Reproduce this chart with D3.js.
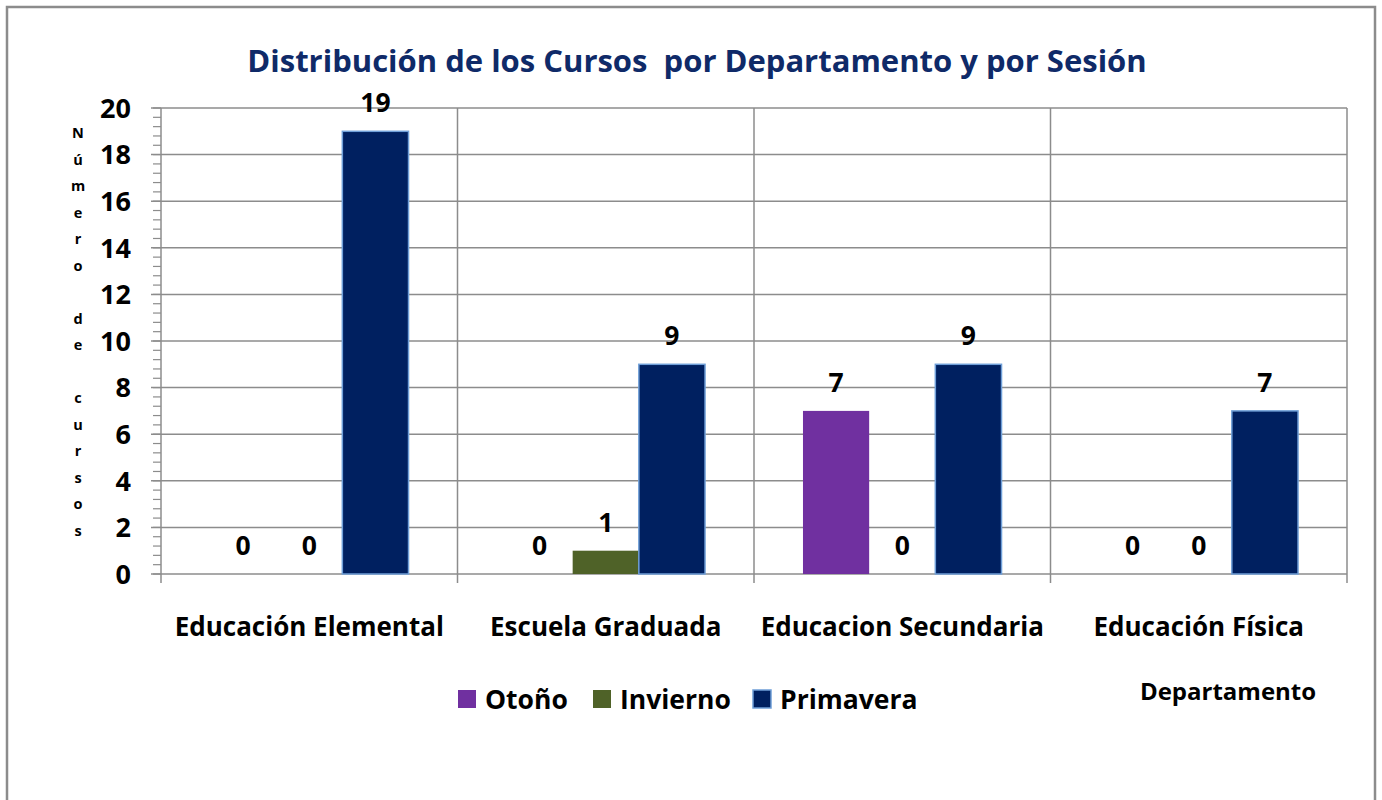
<!DOCTYPE html>
<html>
<head>
<meta charset="utf-8">
<script src="https://cdn.jsdelivr.net/npm/d3@7"></script>
<style>
  body { margin: 0; background: #fff; }
  svg text { font-family: "Open Sans", sans-serif; font-weight: bold; }
</style>
</head>
<body>
<div id="myChart"></div>
<script>
// Data
var categories = ["Educación Elemental", "Escuela Graduada", "Educacion Secundaria", "Educación Física"];
var seriesNames = ["Otoño", "Invierno", "Primavera"];
var otono = [0, 0, 7, 0];
var invierno = [0, 1, 0, 0];
var primavera = [19, 9, 9, 7];
var yTicks = [0, 2, 4, 6, 8, 10, 12, 14, 16, 18, 20];
var colors = ["#7030a0", "#4f6228", "#002060"];
var yTitle = "Número de cursos";

var seriesValues = [otono, invierno, primavera];

var width = 1382, height = 800;
var plotLeft = 161, plotRight = 1347, plotTop = 108, plotBottom = 574;

var svg = d3.select("#myChart")
    .append("svg")
    .attr("width", width)
    .attr("height", height);

// Outer frame
svg.append("rect")
    .attr("x", 7).attr("y", 7)
    .attr("width", 1368).attr("height", 820)
    .attr("fill", "#fff")
    .attr("stroke", "#8c8c8c")
    .attr("stroke-width", 2.5);

// Scales
var x0 = d3.scaleBand().domain(categories).range([plotLeft, plotRight]).padding(0);
var x1 = d3.scaleBand().domain(seriesNames).range([0, x0.bandwidth()])
    .paddingInner(0).paddingOuter(0.74);
var y = d3.scaleLinear().domain([0, 20]).range([plotBottom, plotTop]);

// Horizontal gridlines
svg.append("g")
    .selectAll("line")
    .data(yTicks)
    .join("line")
    .attr("x1", plotLeft - 10).attr("x2", plotRight)
    .attr("y1", d => y(d)).attr("y2", d => y(d))
    .attr("stroke", "#8c8c8c").attr("stroke-width", 1.5);

// Minor ticks on the y axis
svg.append("g")
    .selectAll("line")
    .data(d3.range(0, 20.01, 0.4))
    .join("line")
    .attr("x1", plotLeft - 8).attr("x2", plotLeft)
    .attr("y1", d => y(d)).attr("y2", d => y(d))
    .attr("stroke", "#8c8c8c").attr("stroke-width", 1.2);

// Vertical gridlines at category boundaries
var bounds = categories.map(c => x0(c)).concat([plotRight]);
svg.append("g")
    .selectAll("line")
    .data(bounds)
    .join("line")
    .attr("x1", d => d).attr("x2", d => d)
    .attr("y1", plotTop).attr("y2", plotBottom + 9)
    .attr("stroke", "#8c8c8c").attr("stroke-width", 1.5);

// Y axis labels
svg.append("g")
    .selectAll("text")
    .data(yTicks)
    .join("text")
    .attr("x", 131)
    .attr("y", d => y(d))
    .attr("dy", "0.36em")
    .attr("text-anchor", "end")
    .style("font-size", "27px")
    .text(d => d);

// Bars
var groups = svg.append("g")
    .selectAll("g")
    .data(categories)
    .join("g")
    .attr("transform", d => "translate(" + x0(d) + ",0)");

groups.selectAll("rect")
    .data((c, i) => seriesNames.map((s, j) => ({ s: s, v: seriesValues[j][i], j: j })))
    .join("rect")
    .attr("x", d => x1(d.s))
    .attr("y", d => y(d.v))
    .attr("width", x1.bandwidth())
    .attr("height", d => y(0) - y(d.v))
    .attr("fill", d => colors[d.j])
    .attr("stroke", d => d.j === 2 && d.v > 0 ? "#6f9fd8" : "none")
    .attr("stroke-width", 1.5);

groups.selectAll("text")
    .data((c, i) => seriesNames.map((s, j) => ({ s: s, v: seriesValues[j][i], j: j })))
    .join("text")
    .attr("x", d => x1(d.s) + x1.bandwidth() / 2)
    .attr("y", d => y(d.v) - 19)
    .attr("text-anchor", "middle")
    .style("font-size", "26.5px")
    .text(d => d.v);

// Category labels
svg.append("g")
    .selectAll("text")
    .data(categories)
    .join("text")
    .attr("x", d => x0(d) + x0.bandwidth() / 2)
    .attr("y", 636)
    .attr("text-anchor", "middle")
    .style("font-size", "26px")
    .text(d => d);

// Title
svg.append("text")
    .attr("x", 697)
    .attr("y", 72)
    .attr("text-anchor", "middle")
    .attr("fill", "#0f2a68")
    .style("font-size", "31px")
    .style("white-space", "pre")
    .text("Distribución de los Cursos  por Departamento y por Sesión");

// Y axis title, one letter per line (spaces become a blank line)
var letters = yTitle.split("");
svg.append("g")
    .selectAll("text")
    .data(letters)
    .join("text")
    .attr("x", 78)
    .attr("y", (d, i) => 138 + i * 26.5)
    .attr("text-anchor", "middle")
    .style("font-size", "14.5px")
    .text(d => d.trim());

// Legend
var legendX = [458, 593, 753];
var legend = svg.append("g")
    .selectAll("g")
    .data(seriesNames)
    .join("g")
    .attr("transform", (d, i) => "translate(" + legendX[i] + ",690)");

legend.append("rect")
    .attr("width", 18).attr("height", 18)
    .attr("fill", (d, i) => colors[i])
    .attr("stroke", (d, i) => i === 2 ? "#6f9fd8" : "none")
    .attr("stroke-width", 1.5);

legend.append("text")
    .attr("x", 27)
    .attr("y", 9)
    .attr("dy", "0.36em")
    .style("font-size", "26.5px")
    .text(d => d);

// X axis title
svg.append("text")
    .attr("x", 1228)
    .attr("y", 700)
    .attr("text-anchor", "middle")
    .style("font-size", "24px")
    .text("Departamento");
</script>
</body>
</html>
